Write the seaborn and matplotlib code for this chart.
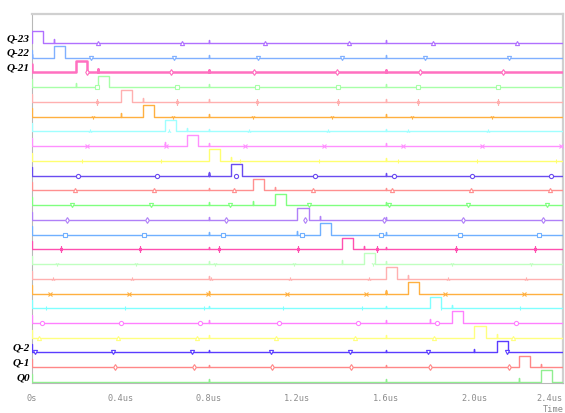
import numpy as np
import pandas as pd
import matplotlib
matplotlib.use('Agg')
import matplotlib.pyplot as plt
import matplotlib.transforms as mtransforms
import seaborn as sns

# traces listed from top (Q-23) to bottom (Q0)
trace_names = ['Q-23', 'Q-22', 'Q-21', 'Q-20', 'Q-19', 'Q-18', 'Q-17', 'Q-16',
               'Q-15', 'Q-14', 'Q-13', 'Q-12', 'Q-11', 'Q-10', 'Q-9', 'Q-8',
               'Q-7', 'Q-6', 'Q-5', 'Q-4', 'Q-3', 'Q-2', 'Q-1', 'Q0']
labelled = ['Q-23', 'Q-22', 'Q-21', 'Q-2', 'Q-1', 'Q0']

# pulse start (us), pulse width 0.05us
pulse_start = [0.00, 0.10, 0.20, 0.30, 0.40, 0.50, 0.60, 0.70,
               0.80, 0.90, 1.00, 1.10, 1.20, 1.30, 1.40, 1.50,
               1.60, 1.70, 1.80, 1.90, 2.00, 2.10, 2.20, 2.30]
pulse_width = 0.05
# small glitch next to each pulse (us)
glitch_time = [0.10, 0.00, 0.30, 0.20, 0.50, 0.40, 0.70, 0.60,
               0.90, 0.80, 1.10, 1.00, 1.30, 1.20, 1.50, 1.40,
               1.70, 1.60, 1.90, 1.80, 2.10, 2.00, 2.30, 2.20]
# glitches common to all traces
common_glitch = [0.8, 1.6]
t_end = 2.4

# first marker position and marker step (us), None = no markers
marker_first = [0.297, 0.265, 0.250, 0.295, 0.295, 0.275, 0.260, 0.247,
                0.225, 0.210, 0.195, 0.180, 0.160, 0.148, 0.130, 0.115,
                0.093, 0.080, 0.062, 0.045, 0.030, 0.012, 0.375, None]
marker_step = [0.379, 0.378, 0.376, 0.362, 0.362, 0.361, 0.360, 0.357,
               0.357, 0.356, 0.358, 0.358, 0.358, 0.357, 0.357, 0.357,
               0.357, 0.357, 0.357, 0.357, 0.357, 0.356, 0.356, 0.356]
marker_cycle = ['^', 'v', 'd', 's', '$\u2021$', '1', '2', 'x', '|', 'o']

colors = ['#b070ff', '#80b0ff', '#ff70c0', '#a8ffa8', '#ffb0b0', '#ffb040',
          '#a0ffff', '#ff90ff', '#ffff70', '#6a4cf0', '#ff9090', '#80ff80',
          '#b080f8', '#70b0ff', '#ff50b0', '#c0ffc0', '#ffb0b0', '#ffb040',
          '#80ffff', '#ff80ff', '#ffff80', '#5a3cff', '#ff8888', '#90ee90']

HIGH = 0.78
SPIKE = 0.25
SMALL_SPIKE = 0.18
INIT = 0.55


def waveform(start, glitch):
    events = [(start, 'p', 0), (glitch, 's', SPIKE)] + [(g, 's', SMALL_SPIKE) for g in common_glitch]
    events.sort()
    if start == 0:
        pts = [(0.0, 0.0)]
    else:
        pts = [(0.0, INIT), (0.0, 0.0)]
    for t, kind, h in events:
        if kind == 'p':
            pts += [(t, 0.0), (t, HIGH), (t + pulse_width, HIGH), (t + pulse_width, 0.0)]
        elif not (start <= t <= start + pulse_width):
            pts += [(t, 0.0), (t, h), (t, 0.0)]
    pts.append((t_end, 0.0))
    return pts


sns.set_style('white')
fig = plt.figure(figsize=(5.65, 4.14), dpi=100)
ax = fig.add_axes([32 / 565, 1 - 384 / 414, 531 / 565, 369 / 414])

n = len(trace_names)
for i, name in enumerate(trace_names):
    base = n - 1 - i
    pts = waveform(pulse_start[i], glitch_time[i])
    df = pd.DataFrame(pts, columns=['time', 'level'])
    df['y'] = base + df['level']
    lw = 1.8 if name == 'Q-21' else 1.0
    sns.lineplot(data=df, x='time', y='y', color=colors[i], lw=lw,
                 estimator=None, sort=False, ax=ax, zorder=3, legend=False)
    if marker_first[i] is not None:
        mt = np.arange(marker_first[i], t_end, marker_step[i])
        m = marker_cycle[i % len(marker_cycle)]
        ax.plot(mt, np.full(len(mt), base), linestyle='none', marker=m,
                ms=3.8 if m.startswith('$') else 3.0, mfc='white', mec=colors[i],
                mew=0.8, zorder=4)
    if name in labelled:
        tr = mtransforms.blended_transform_factory(ax.transAxes, ax.transData)
        ax.text(-0.004, base + 0.35, name, transform=tr, ha='right', va='center',
                family='Liberation Serif', style='italic', weight='bold',
                fontsize=8, color='black')

ax.set_xlim(0, t_end)
ax.set_ylim(-0.07, 24.96)
ax.set_yticks([])
ax.set_xticks([0, 0.4, 0.8, 1.2, 1.6, 2.0, 2.4])
ax.set_xticklabels(['0s', '0.4us', '0.8us', '1.2us', '1.6us', '2.0us', '2.4us'],
                   family='DejaVu Sans Mono', fontsize=6.2, color='#8c8c8c')
ax.get_xticklabels()[-1].set_horizontalalignment('right')
ax.set_xticks(np.arange(0, 2.41, 0.1), minor=True)
ax.tick_params(axis='x', which='major', direction='inout', length=6,
               width=1, color='#a8a8a8', pad=4)
ax.tick_params(axis='x', which='minor', direction='in', length=1.5,
               width=1, color='#c0c0c0')
ax.set_xlabel('')
ax.set_ylabel('')
for side in ['top', 'right']:
    ax.spines[side].set_color('#d0d0d0')
    ax.spines[side].set_linewidth(1.6)
ax.spines['left'].set_color('#b8b8b8')
ax.spines['left'].set_linewidth(0.8)
ax.spines['bottom'].set_color('#b8b8b8')
ax.spines['bottom'].set_linewidth(0.8)

fig.text(553 / 565, 1 - 410 / 414, 'Time', ha='center', va='center',
         family='DejaVu Sans Mono', fontsize=6.2, color='#8c8c8c')

fig.savefig('out.png', dpi=100)
